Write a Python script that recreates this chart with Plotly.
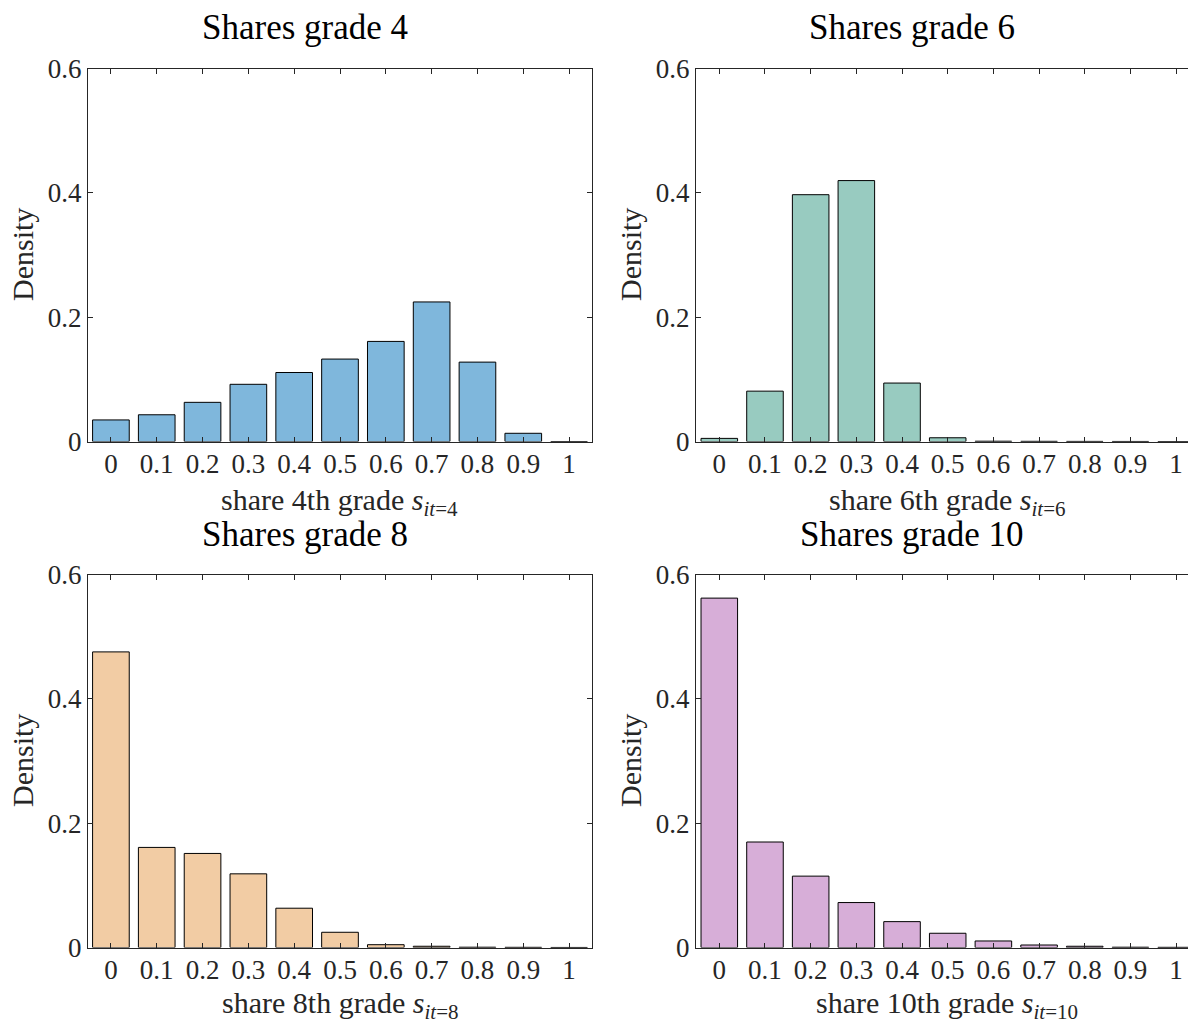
import plotly.graph_objects as go

# ---- data ----
share_bins = [0, 0.1, 0.2, 0.3, 0.4, 0.5, 0.6, 0.7, 0.8, 0.9, 1.0]
tick_labels_x = ["0", "0.1", "0.2", "0.3", "0.4", "0.5", "0.6", "0.7", "0.8", "0.9", "1"]
tick_vals_y = [0, 0.2, 0.4, 0.6]
tick_labels_y = ["0", "0.2", "0.4", "0.6"]

grade4 = [0.0347, 0.043, 0.063, 0.092, 0.111, 0.1326, 0.161, 0.2245, 0.1277, 0.0132, 0.0]
grade6 = [0.005, 0.081, 0.397, 0.4197, 0.094, 0.006, 0.0005, 0.0003, 0.0002, 0.0001, 0.0]
grade8 = [0.4755, 0.161, 0.1513, 0.1185, 0.0632, 0.0245, 0.0045, 0.002, 0.0005, 0.0003, 0.0001]
grade10 = [0.562, 0.1697, 0.1148, 0.0723, 0.0416, 0.0229, 0.0105, 0.004, 0.002, 0.0005, 0.0003]

titles = ["Shares grade 4", "Shares grade 6", "Shares grade 8", "Shares grade 10"]
xtitles = [
    "share 4th grade <i>s</i><sub><i>it</i>=4</sub>",
    "share 6th grade <i>s</i><sub><i>it</i>=6</sub>",
    "share 8th grade <i>s</i><sub><i>it</i>=8</sub>",
    "share 10th grade <i>s</i><sub><i>it</i>=10</sub>",
]
colors = ["#7FB7DC", "#98CBC0", "#F2CCA4", "#D7AED8"]
series = [grade4, grade6, grade8, grade10]

W, H = 1188, 1023
FONT = "Liberation Serif"
AX = "#262626"
TICK_SIZE = 27
XLABEL_SIZE = 30
YLABEL_SIZE = 30
TITLE_SIZE = 35

# panel geometry in pixels: (left, right, top, bottom)
panels = [
    (88, 592, 68.5, 441.5),
    (696, 1188, 68.5, 441.5),
    (88, 592, 574.5, 947.5),
    (696, 1188, 574.5, 947.5),
]
xranges = [[-0.05, 1.05], [-0.051, 1.026], [-0.05, 1.05], [-0.051, 1.026]]

fig = go.Figure()
layout = dict(
    width=W, height=H,
    margin=dict(l=0, r=0, t=0, b=0, pad=0, autoexpand=False),
    paper_bgcolor="white", plot_bgcolor="white",
    showlegend=False,
    font=dict(family=FONT, color=AX, size=TICK_SIZE),
    bargap=0.2,
)
annotations = []

for i, (vals, col) in enumerate(zip(series, colors)):
    xa = "x" if i == 0 else f"x{i+1}"
    ya = "y" if i == 0 else f"y{i+1}"
    fig.add_trace(go.Bar(
        x=share_bins, y=vals, width=0.08,
        marker=dict(color=col, line=dict(color="#000000", width=1)),
        xaxis=xa, yaxis=ya,
    ))
    l, r, t, b = panels[i]
    right_panel = i in (1, 3)
    layout[f"xaxis{'' if i == 0 else i+1}"] = dict(
        domain=[l / W, r / W], anchor=ya, range=xranges[i],
        tickvals=share_bins, ticktext=tick_labels_x,
        ticks="inside", ticklen=5, tickcolor=AX, tickwidth=1,
        showline=True, linecolor=AX, linewidth=1, mirror="ticks",
        showgrid=False, zeroline=False, automargin=False,
        ticklabelstandoff=-2,
        tickfont=dict(family=FONT, size=TICK_SIZE, color=AX),
    )
    layout[f"yaxis{'' if i == 0 else i+1}"] = dict(
        domain=[1 - b / H, 1 - t / H], anchor=xa, range=[0, 0.6],
        tickvals=tick_vals_y, ticktext=tick_labels_y,
        ticks="inside", ticklen=5, tickcolor=AX, tickwidth=1,
        showline=True, linecolor=AX, linewidth=1,
        mirror=False if right_panel else "ticks",
        showgrid=False, zeroline=False, automargin=False,
        tickfont=dict(family=FONT, size=TICK_SIZE, color=AX),
    )
    # panel title
    tx = 305 if i in (0, 2) else 912
    ty = 28 if i < 2 else 534
    annotations.append(dict(
        text=titles[i], x=tx / W, y=1 - ty / H, xref="paper", yref="paper",
        xanchor="center", yanchor="middle", showarrow=False,
        font=dict(family=FONT, size=TITLE_SIZE, color="#000000"),
    ))
    # x-axis title
    xx = 340 if i in (0, 2) else 947
    xy = 502 if i < 2 else 1005
    annotations.append(dict(
        text=xtitles[i], x=xx / W, y=1 - xy / H, xref="paper", yref="paper",
        xanchor="center", yanchor="middle", showarrow=False,
        font=dict(family=FONT, size=XLABEL_SIZE, color=AX),
    ))
    # y-axis title
    yx = 22 if i in (0, 2) else 630
    yy = 255 if i < 2 else 761
    annotations.append(dict(
        text="Density", x=yx / W, y=1 - yy / H, xref="paper", yref="paper",
        xanchor="center", yanchor="middle", showarrow=False, textangle=-90,
        font=dict(family=FONT, size=YLABEL_SIZE, color=AX),
    ))

layout["annotations"] = annotations
fig.update_layout(**layout)
fig.write_html(
    "out.html",
    config={"displayModeBar": False},
    post_script="document.body.style.margin='0px';document.body.style.overflow='hidden';",
)
